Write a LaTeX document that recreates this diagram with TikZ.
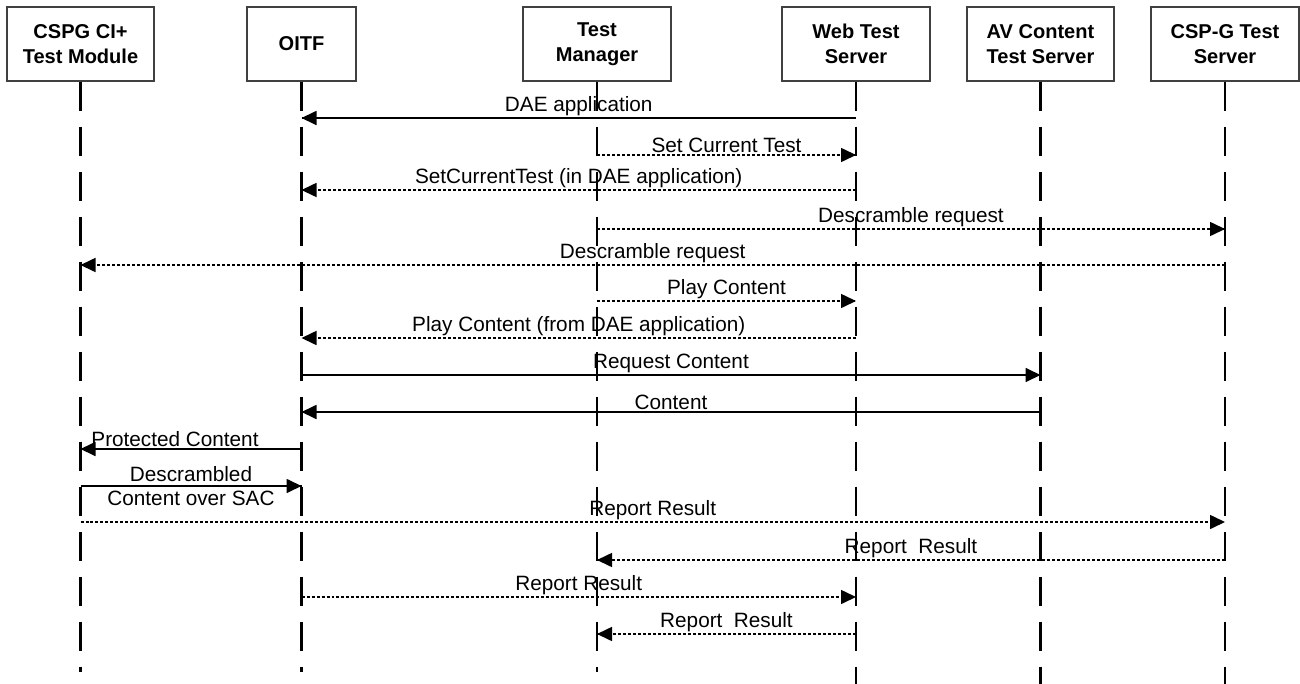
\documentclass[tikz,border=0pt]{standalone}
\usepackage{fontspec}
\setmainfont{Liberation Sans}
\usetikzlibrary{calc}
\usetikzlibrary{arrows.meta,decorations.markings}

\begin{document}
\begin{tikzpicture}[
		actor/.style={draw=black!75, line width=0.6pt, minimum height=1.48cm, inner sep=0pt, align=center, font=\fontsize{11.4}{14}\selectfont\bfseries},
		life/.style={line width=1.15pt, dash pattern=on 0.58cm off 0.32cm},
		tipped/.style={decoration={markings,mark=at position 1 with {\arrow{Triangle[length=0.3cm,width=0.28cm]}}},postaction={decorate}},
		msg/.style={line width=1pt, tipped},
		reply/.style={line width=0.9pt, dash pattern=on 0.06cm off 0.04cm, tipped},
		lbl/.style={font=\fontsize{11.8}{14}\selectfont, inner sep=1pt, above}
	]
			\useasboundingbox (0,0) rectangle (26,-13.68);

			\node[actor, minimum width=2.94cm] (cspg) at (1.61,-0.88) {CSPG CI+\\Test Module};
			\node[actor, minimum width=2.18cm] (oitf) at (6.03,-0.88) {OITF};
			\node[actor, minimum width=2.96cm] (tm) at (11.94,-0.88) {Test\\Manager};
			\node[actor, minimum width=2.96cm] (wts) at (17.12,-0.88) {Web Test\\Server};
			\node[actor, minimum width=2.94cm] (av) at (20.81,-0.88) {AV Content\\Test Server};
			\node[actor, minimum width=2.96cm] (cspgt) at (24.5,-0.88) {CSP-G Test\\Server};

			%lifelines
			\coordinate (cspgE) at ($(cspg.south)+(0,-11.8)$);
			\coordinate (oitfE) at ($(oitf.south)+(0,-11.8)$);
			\coordinate (tmE) at ($(tm.south)+(0,-11.8)$);
			\coordinate (wtsE) at ($(wts.south)+(0,-12.2)$);
			\coordinate (avE) at ($(av.south)+(0,-12.2)$);
			\coordinate (cspgtE) at ($(cspgt.south)+(0,-12.2)$);

			\draw[life] (cspg.south) -- (cspgE);
			\draw[life] (oitf.south) -- (oitfE);
			\draw[life] (tm.south) -- (tmE);
			\draw[life] (wts.south) -- (wtsE);
			\draw[life] (av.south) -- (avE);
			\draw[life] (cspgt.south) -- (cspgtE);

			%message rows
			\coordinate (r1) at (0,-2.36);
			\coordinate (r2) at (0,-3.10);
			\coordinate (r3) at (0,-3.80);
			\coordinate (r4) at (0,-4.58);
			\coordinate (r5) at (0,-5.30);
			\coordinate (r6) at (0,-6.02);
			\coordinate (r7) at (0,-6.76);
			\coordinate (r8) at (0,-7.50);
			\coordinate (r9) at (0,-8.24);
			\coordinate (r10) at (0,-8.98);
			\coordinate (r11) at (0,-9.72);
			\coordinate (r12) at (0,-10.44);
			\coordinate (r13) at (0,-11.20);
			\coordinate (r14) at (0,-11.94);
			\coordinate (r15) at (0,-12.68);

			\draw[msg] (wts |- r1) -- (oitf |- r1) node[lbl, midway] {DAE application};
			\draw[reply] (tm |- r2) -- (wts |- r2) node[lbl, midway] {Set Current Test};
			\draw[reply] (wts |- r3) -- (oitf |- r3) node[lbl, midway] {SetCurrentTest (in DAE application)};
			\draw[reply] (tm |- r4) -- (cspgt |- r4) node[lbl, midway] {Descramble request};
			\draw[reply] (cspgt |- r5) -- (cspg |- r5) node[lbl, midway] {Descramble request};
			\draw[reply] (tm |- r6) -- (wts |- r6) node[lbl, midway] {Play Content};
			\draw[reply] (wts |- r7) -- (oitf |- r7) node[lbl, midway] {Play Content (from DAE application)};
			\draw[msg] (oitf |- r8) -- (av |- r8) node[lbl, midway] {Request Content};
			\draw[msg] (av |- r9) -- (oitf |- r9) node[lbl, midway] {Content};
			\draw[msg] (oitf |- r10) -- (cspg |- r10) node[lbl, midway, xshift=-0.32cm] {Protected Content};
			\draw[msg] (cspg |- r11) -- (oitf |- r11) node[midway, align=center, inner sep=0pt, font=\fontsize{11.8}{14}\selectfont] {Descrambled\\Content over SAC};
			\draw[reply] (cspg |- r12) -- (cspgt |- r12) node[lbl, midway] {Report Result};
			\draw[reply] (cspgt |- r13) -- (tm |- r13) node[lbl, midway] {Report~ Result};
			\draw[reply] (oitf |- r14) -- (wts |- r14) node[lbl, midway] {Report Result};
			\draw[reply] (wts |- r15) -- (tm |- r15) node[lbl, midway] {Report~ Result};

		\end{tikzpicture}
\end{document}
